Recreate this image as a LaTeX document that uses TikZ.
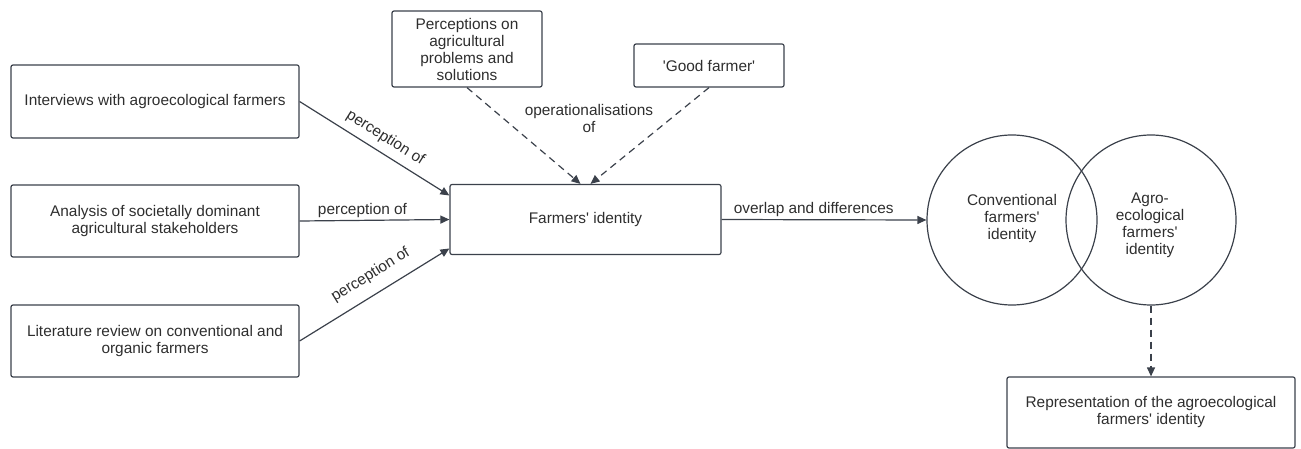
\documentclass[tikz,border=0pt]{standalone}
\usepackage{fontspec}
\setmainfont{Liberation Sans}
\usepackage{tikz}
\usepackage{xcolor}
\usetikzlibrary{arrows.meta}
\definecolor{linegray}{HTML}{3B414B}
\definecolor{textgray}{HTML}{2E2E2E}
\newcommand{\qs}{\textquotesingle}

\begin{document}
\begin{tikzpicture}[x=1pt,y=-1pt,
						box/.style={draw=linegray,line width=1.2pt,rounded corners=2pt,align=center,text=textgray,inner sep=2pt,font=\fontsize{15.4}{17}\selectfont},
						circ/.style={draw=linegray,line width=1.2pt,circle,minimum size=170pt,inner sep=0pt},
						link/.style={draw=linegray,line width=1.2pt,-{Triangle[length=9pt,width=8pt]}},
						dlink/.style={link,dash pattern=on 7pt off 5pt},
						lbl/.style={text=textgray,font=\fontsize{15.4}{17}\selectfont,inner sep=2pt}]
						\useasboundingbox (0,0) rectangle (1301,449);
						\node[box,minimum width=288pt,minimum height=73pt] (intv) at (155,101.5) {Interviews with agroecological farmers};
						\node[box,minimum width=288pt,minimum height=72pt] (anal) at (155,221) {Analysis of societally dominant\\agricultural stakeholders};
						\node[box,minimum width=288pt,minimum height=72pt] (litr) at (155,341) {Literature review on conventional and\\organic farmers};
						\node[box,minimum width=271pt,minimum height=70pt] (fid) at (585.5,219.5) {Farmers\qs{} identity};
						\node[box,minimum width=150pt,minimum height=76pt] (perc) at (467,49) {Perceptions on\\agricultural\\problems and\\solutions};
						\node[box,minimum width=150pt,minimum height=43pt] (good) at (709,65.5) {\qs{}Good farmer\qs};
						\node[lbl,align=center] (ops) at (589,118) {operationalisations\\of};
						\node[circ] (conv) at (1012,220) {};
						\node[circ] (agro) at (1151,220) {};
						\node[lbl,align=center] (convtxt) at (1012,219) {Conventional\\farmers\qs\\identity};
						\node[lbl,align=center] (agrotxt) at (1150,225) {Agro-\\ecological\\farmers\qs\\identity};
						\node[box,minimum width=288pt,minimum height=71pt] (rep) at (1151,412.5) {Representation of the agroecological\\farmers\qs{} identity};
						\draw[link] (intv.east) -- node[lbl,sloped,above=5pt,pos=0.52] {perception of} ([yshift=24pt]fid.west);
						\draw[link] (anal.east) -- node[lbl,above,pos=0.42] {perception of} (fid.west);
						\draw[link] (litr.east) -- node[lbl,sloped,above=9pt,pos=0.54] {perception of} ([yshift=-29pt]fid.west);
						\draw[dlink] (perc.south) -- ([xshift=-5pt]fid.north);
						\draw[dlink] (good.south) -- ([xshift=5pt]fid.north);
						\draw[link] (fid.east) -- node[lbl,above,pos=0.45] {overlap and differences} (conv.west);
						\draw[dlink] (agro.south) -- (rep.north);
					\end{tikzpicture}
\end{document}
